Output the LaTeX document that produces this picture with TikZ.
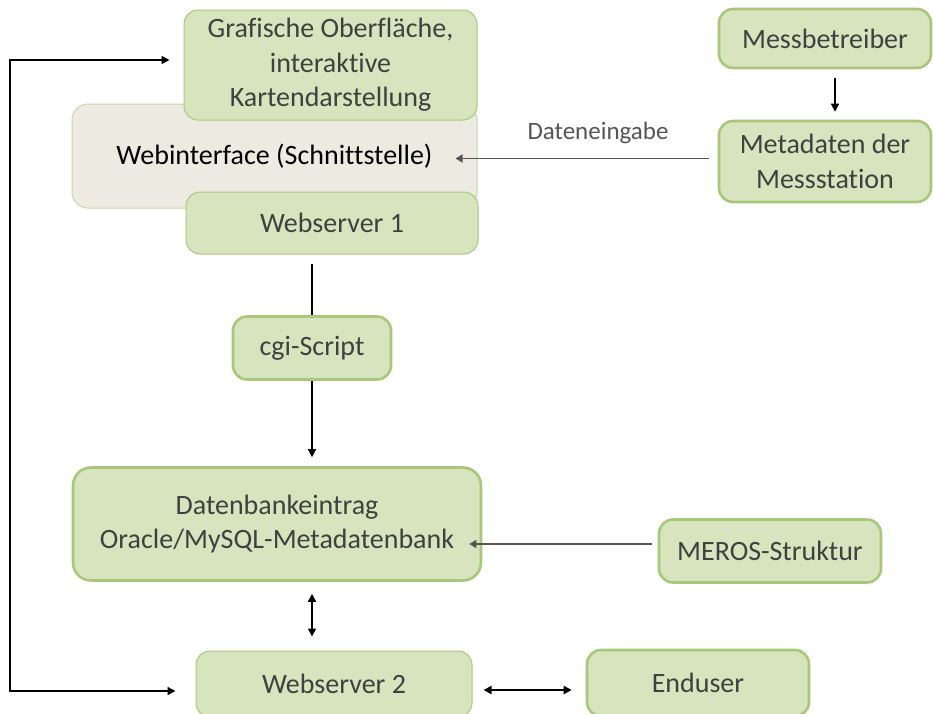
\documentclass[tikz,border=0pt]{standalone}
\usepackage{fontspec}
\setmainfont[RawFeature={-liga;-clig;-calt}]{Carlito}
\usetikzlibrary{arrows.meta}

\definecolor{boxfill}{HTML}{D7E4BD}
\definecolor{boxline}{HTML}{A9C77B}
\definecolor{webfill}{HTML}{EDEBE1}
\definecolor{boxtext}{HTML}{404040}
\definecolor{grayline}{HTML}{555555}

\begin{document}
\begin{tikzpicture}[x=1pt, y=-1pt,
  font=\fontsize{28}{34.5}\selectfont,
  greenbox/.style = {rectangle, rounded corners=14pt, fill=boxfill, draw=boxline, line width=1pt,
    text=boxtext, align=center, inner sep=0pt},
  thickbox/.style = {greenbox, line width=2.6pt},
  webbox/.style = {rectangle, rounded corners=16pt, fill=webfill, draw=boxline!70, line width=1pt,
    align=center, inner sep=0pt},
  arr/.style = {line width=1.4pt, -{Triangle[length=8pt,width=8pt]}},
  dblarr/.style = {line width=1.6pt, {Triangle[length=8pt,width=8pt]}-{Triangle[length=8pt,width=8pt]}},
  grayarr/.style = {line width=1.8pt, draw=grayline, -{Triangle[length=7pt,width=8pt]}},
  ]

\useasboundingbox[fill=white] (0,0) rectangle (933,713);

\node[webbox, minimum width=405pt, minimum height=104pt] (webif) at (274.5,156) {Webinterface (Schnittstelle)};
\node[greenbox, minimum width=293pt, minimum height=110pt] (gui) at (330.5,65) {Grafische Oberfläche,\\interaktive\\Kartendarstellung};
\node[greenbox, minimum width=292pt, minimum height=62pt] (ws1) at (332,223) {Webserver 1};

\node[thickbox, minimum width=212pt, minimum height=59pt] (mess) at (825,38.5) {Messbetreiber};
\node[thickbox, minimum width=212pt, minimum height=81pt] (meta) at (825,161.5) {Metadaten der\\Messstation};

\node[thickbox, minimum width=158pt, minimum height=63pt] (cgi) at (312,348) {cgi-Script};
\node[thickbox, minimum width=408pt, minimum height=113pt, rounded corners=18pt] (db) at (277,524) {Datenbankeintrag\\Oracle/MySQL-Metadatenbank};
\node[thickbox, minimum width=222pt, minimum height=63pt] (meros) at (770,551) {MEROS-Struktur};

\node[greenbox, minimum width=276pt, minimum height=66pt] (ws2) at (334,684) {Webserver 2};
\node[thickbox, minimum width=222pt, minimum height=66pt] (enduser) at (698,683) {Enduser};

\node[text=grayline, font=\fontsize{25}{30}\selectfont] (dateneingabe) at (598,133) {Dateneingabe};

\coordinate (lp) at (10,400);

% Verbindungen
\draw[arr, shorten <=9pt, shorten >=8pt] ([xshift=10pt]mess.south) -- ([xshift=10pt]meta.north);
\draw[grayarr, shorten <=9pt, shorten >=-22pt] ([yshift=3pt]meta.west) -- ([yshift=3pt]meta.west -| webif.east);
\draw[line width=1.4pt, shorten <=9pt] (ws1.south -| cgi.north) -- (cgi.north);
\draw[arr, shorten >=9pt] (cgi.south) -- (cgi.south |- db.north);
\draw[grayarr, shorten <=6pt, shorten >=-13pt] ([yshift=7pt]meros.west) -- ([yshift=7pt]meros.west -| db.east);
\draw[dblarr, shorten <=12pt, shorten >=14pt] (cgi.south |- db.south) -- (cgi.south |- ws2.north);
\draw[dblarr, line width=2pt, shorten <=11pt, shorten >=14pt] ([yshift=-6pt]ws2.east) -- ([yshift=-6pt]ws2.east -| enduser.west);
\draw[dblarr, shorten <=14pt, shorten >=20pt] ([yshift=5pt]gui.west) -| (lp) |- ([yshift=-7pt]ws2.west);

\end{tikzpicture}
\end{document}
